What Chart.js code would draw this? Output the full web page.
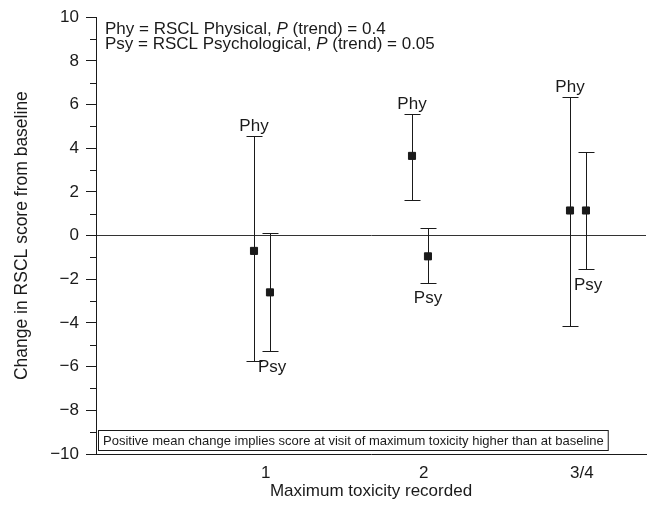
<!DOCTYPE html>
<html>
<head>
<meta charset="utf-8">
<script src="https://cdn.jsdelivr.net/npm/chart.js@4"></script>
<style>
  html, body { margin: 0; padding: 0; background: #fff; }
  #wrap { width: 654px; height: 511px; }
</style>
</head>
<body>
<div id="wrap"><canvas id="myChart"></canvas></div>
<script>
// toxicity groups and RSCL change scores (mean with interval ends)
const groups = ["1", "2", "3/4"];
const phyMean = [-0.7, 3.65, 1.15];
const phyLow = [-5.75, 1.65, -4.15];
const phyHigh = [4.55, 5.55, 6.35];
const psyMean = [-2.6, -0.95, 1.15];
const psyLow = [-5.3, -2.15, -1.55];
const psyHigh = [0.1, 0.35, 3.85];
const yMajor = [-10, -8, -6, -4, -2, 0, 2, 4, 6, 8, 10];

const legendLines = [
  ["Phy = RSCL Physical, ", "P", " (trend) = 0.4"],
  ["Psy = RSCL Psychological, ", "P", " (trend) = 0.05"],
];
const noteText =
  "Positive mean change implies score at visit of maximum toxicity higher than at baseline";

const FONT = '"Liberation Sans", Arial, sans-serif';
const INK = "#1a1a1a";
const PHY_OFF = -0.075;
const PSY_OFF = 0.026;

const phyPoints = phyMean.map((v, i) => ({ x: i + 1 + PHY_OFF, y: v }));
const psyPoints = psyMean.map((v, i) => ({ x: i + 1 + PSY_OFF, y: v }));

const extras = {
  id: "extras",
  beforeDatasetsDraw(chart) {
    const { ctx, scales: { x, y } } = chart;
    ctx.save();
    ctx.strokeStyle = INK;
    ctx.lineWidth = 1;
    // minor ticks on the y axis
    for (let v = -9; v <= 9; v += 2) {
      const py = Math.round(y.getPixelForValue(v)) + 0.5;
      ctx.beginPath();
      ctx.moveTo(x.left - 6, py);
      ctx.lineTo(x.left, py);
      ctx.stroke();
    }
    // error bars
    const bar = (xv, lo, hi) => {
      const px = Math.round(x.getPixelForValue(xv)) + 0.5;
      const pl = Math.round(y.getPixelForValue(lo)) + 0.5;
      const ph = Math.round(y.getPixelForValue(hi)) + 0.5;
      ctx.beginPath();
      ctx.moveTo(px, pl);
      ctx.lineTo(px, ph);
      ctx.moveTo(px - 8, pl);
      ctx.lineTo(px + 8, pl);
      ctx.moveTo(px - 8, ph);
      ctx.lineTo(px + 8, ph);
      ctx.stroke();
    };
    groups.forEach((g, i) => {
      bar(i + 1 + PHY_OFF, phyLow[i], phyHigh[i]);
      bar(i + 1 + PSY_OFF, psyLow[i], psyHigh[i]);
    });
    ctx.restore();
  },
  afterDatasetsDraw(chart) {
    const { ctx, scales: { x, y } } = chart;
    ctx.save();
    ctx.fillStyle = INK;
    ctx.font = "17px " + FONT;
    // Phy labels above the upper caps
    ctx.textAlign = "center";
    ctx.textBaseline = "alphabetic";
    groups.forEach((g, i) => {
      ctx.fillText("Phy", x.getPixelForValue(i + 1 + PHY_OFF), y.getPixelForValue(phyHigh[i]) - 5);
    });
    // Psy labels below the lower caps
    ctx.textBaseline = "top";
    groups.forEach((g, i) => {
      const py = y.getPixelForValue(psyLow[i]) + 7;
      if (i === 1) {
        ctx.textAlign = "center";
        ctx.fillText("Psy", x.getPixelForValue(i + 1 + PSY_OFF), py);
      } else {
        ctx.textAlign = "left";
        ctx.fillText("Psy", x.getPixelForValue(i + 1 + PHY_OFF) + 4, py);
      }
    });
    // legend text in the top left corner
    ctx.textAlign = "left";
    ctx.textBaseline = "alphabetic";
    legendLines.forEach((parts, li) => {
      let tx = x.left + 9;
      const ty = 34 + li * 14.5;
      parts.forEach((p, pi) => {
        ctx.font = (pi === 1 ? "italic " : "") + "17px " + FONT;
        ctx.fillText(p, tx, ty);
        tx += ctx.measureText(p).width;
      });
    });
    // note box along the bottom
    ctx.font = "13px " + FONT;
    const w = ctx.measureText(noteText).width;
    const bx = x.left + 2.5, by = 430.5;
    ctx.fillStyle = "#fff";
    ctx.fillRect(bx, by, w + 9, 20);
    ctx.strokeStyle = INK;
    ctx.lineWidth = 1;
    ctx.strokeRect(bx, by, w + 9, 20);
    ctx.fillStyle = INK;
    ctx.textBaseline = "middle";
    ctx.fillText(noteText, bx + 4.5, by + 10.5);
    ctx.restore();
  },
};

Chart.defaults.font.family = FONT;
Chart.defaults.color = INK;

const myChart = new Chart(document.getElementById("myChart").getContext("2d"), {
  type: "scatter",
  data: {
    datasets: [
      {
        label: "Phy",
        data: phyPoints,
        pointStyle: "rect",
        pointRadius: 5,
        backgroundColor: INK,
        borderColor: INK,
      },
      {
        label: "Psy",
        data: psyPoints,
        pointStyle: "rect",
        pointRadius: 5,
        backgroundColor: INK,
        borderColor: INK,
      },
    ],
  },
  options: {
    responsive: true,
    maintainAspectRatio: false,
    animation: false,
    events: [],
    layout: { padding: { top: 14, right: 8, left: 0, bottom: 0 } },
    plugins: { legend: { display: false }, tooltip: { enabled: false } },
    scales: {
      x: {
        type: "linear",
        min: -0.075,
        max: 3.406,
        afterBuildTicks: (s) => { s.ticks = groups.map((g, i) => ({ value: i + 1 })); },
        afterFit: (s) => { s.height = 57; },
        ticks: {
          callback: (v) => groups[v - 1] || "",
          font: { size: 17 },
          color: INK,
          padding: 9,
          maxRotation: 0,
        },
        grid: { display: false, drawTicks: false },
        border: { display: true, color: INK, width: 1 },
        title: {
          display: true,
          text: "Maximum toxicity recorded",
          font: { size: 17 },
          color: INK,
          padding: { top: 0, bottom: 9 },
        },
      },
      y: {
        min: -10,
        max: 10,
        afterBuildTicks: (s) => { s.ticks = yMajor.map((v) => ({ value: v })); },
        afterFit: (s) => { s.width = 96; },
        ticks: {
          callback: (v) => (v < 0 ? "\u2212" + Math.abs(v) : String(v)),
          font: { size: 17 },
          color: INK,
          padding: 7,
        },
        grid: {
          drawOnChartArea: true,
          drawTicks: true,
          tickLength: 10,
          tickColor: INK,
          color: (c) => (c.tick && c.tick.value === 0 ? "#333" : "rgba(0,0,0,0)"),
        },
        border: { display: true, color: INK, width: 1 },
        title: {
          display: true,
          text: "Change in RSCL score from baseline",
          font: { size: 17.5 },
          color: INK,
          padding: { top: 12, bottom: 0 },
        },
      },
    },
  },
  plugins: [extras],
});
</script>
</body>
</html>
